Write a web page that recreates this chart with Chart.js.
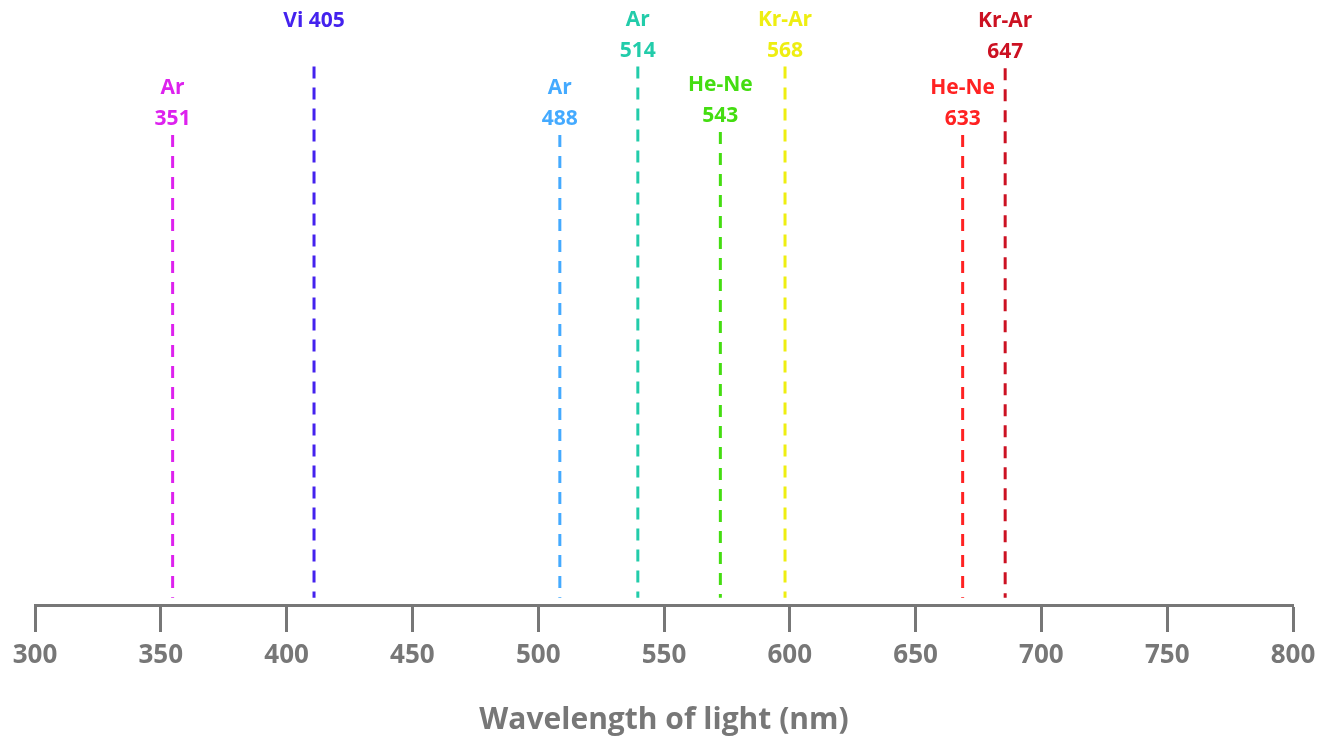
<!DOCTYPE html>
<html>
<head>
<meta charset="utf-8">
<script src="https://cdn.jsdelivr.net/npm/chart.js@4"></script>
<style>
  html, body { margin: 0; padding: 0; background: #fff; }
  #wrap { width: 1321px; height: 742px; }
</style>
</head>
<body>
<div id="wrap"><canvas id="laserChart"></canvas></div>
<script>
// laser lines on a wavelength axis
const laserNames = ['Ar', 'Vi', 'Ar', 'Ar', 'He-Ne', 'Kr-Ar', 'He-Ne', 'Kr-Ar'];
const laserLabels = ['351', '405', '488', '514', '543', '568', '633', '647'];
const lineX = [354.7, 410.9, 508.6, 539.6, 572.4, 598.1, 668.7, 685.6];
const lineTop = [77.7, 89.0, 77.7, 89.0, 78.2, 89.0, 77.7, 88.7];
const lineBottom = 1.2;
const lineColors = ['#dd22ee', '#4422ee', '#44aaff', '#22ccaa', '#44dd11', '#eeee11', '#ff2222', '#cc1122'];
const tickValues = [300, 350, 400, 450, 500, 550, 600, 650, 700, 750, 800];

const FONT = '"Open Sans", sans-serif';
const GREY = '#777777';

const datasets = lineX.map((x, i) => ({
  label: laserNames[i] + ' ' + laserLabels[i],
  data: [{ x: x, y: lineTop[i] }, { x: x, y: lineBottom }],
  borderColor: lineColors[i],
  borderWidth: 3,
  borderDash: [12, 9],
  pointRadius: 0,
  fill: false
}));

// text over each line: name, then wavelength (Vi 405 on one line)
const lineLabelPlugin = {
  id: 'lineLabels',
  afterDatasetsDraw(chart) {
    const { ctx, scales: { x, y } } = chart;
    ctx.save();
    ctx.font = 'bold 21px ' + FONT;
    ctx.textAlign = 'center';
    ctx.textBaseline = 'middle';
    lineX.forEach((v, i) => {
      const px = x.getPixelForValue(v);
      const py = y.getPixelForValue(lineTop[i]);
      ctx.fillStyle = lineColors[i];
      if (laserNames[i] === 'Vi') {
        ctx.fillText(laserNames[i] + ' ' + laserLabels[i], px, py - 46);
      } else {
        ctx.fillText(laserNames[i], px, py - 47);
        ctx.fillText(laserLabels[i], px, py - 16);
      }
    });
    ctx.restore();
  }
};

new Chart(document.getElementById('laserChart'), {
  type: 'line',
  data: { datasets },
  options: {
    responsive: true,
    maintainAspectRatio: false,
    animation: false,
    layout: { padding: { left: 35, right: 28, top: 0, bottom: 0 } },
    plugins: { legend: { display: false }, tooltip: { enabled: false } },
    scales: {
      x: {
        type: 'linear',
        min: 300,
        max: 800,
        afterBuildTicks: (s) => { s.ticks = tickValues.map(v => ({ value: v })); },
        afterFit: (s) => { s.height = 137; s.paddingLeft = 0; s.paddingRight = 0; },
        border: { display: true, color: GREY, width: 3 },
        grid: { drawOnChartArea: false, drawTicks: true, tickLength: 27, tickWidth: 3, tickColor: GREY, color: GREY },
        ticks: { color: GREY, padding: 8, font: { family: FONT, size: 26, weight: 'bold' } },
        title: {
          display: true,
          text: 'Wavelength of light (nm)',
          color: GREY,
          font: { family: FONT, size: 30, weight: 'bold' },
          padding: { top: 0, bottom: 4 }
        }
      },
      y: { display: false, min: 0, max: 100 }
    }
  },
  plugins: [lineLabelPlugin]
});
</script>
</body>
</html>
